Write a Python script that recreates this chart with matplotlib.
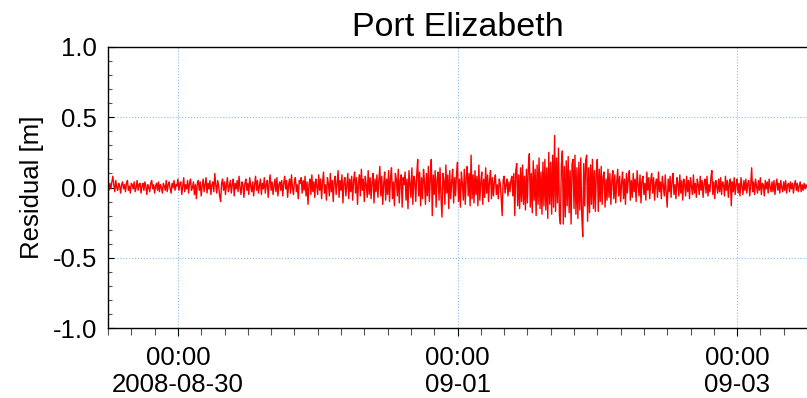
import pandas as pd
import matplotlib
matplotlib.use("Agg")
import matplotlib.pyplot as plt
import matplotlib.dates as mdates

plt.rcParams['font.family'] = ['Liberation Sans', 'DejaVu Sans']

# residual series, 10-minute steps from 2008-08-29 12:00
start_time = "2008-08-29 12:00"
residual = [
    0.01, -0.02, 0.03, -0.01, 0.04, 0.08, 0.02, -0.03, 0.05, 0.00, -0.02, 0.03, 0.01, -0.04, 0.02, 0.04, -0.01, 0.02,
    -0.03, 0.03, 0.05, -0.02, 0.01, -0.04, 0.03, 0.02, -0.01, 0.04, -0.03, 0.00, 0.05, -0.02, 0.02, 0.03, -0.04, 0.01,
    0.03, -0.02, 0.04, 0.01, -0.05, 0.02, 0.00, -0.03, 0.03, 0.05, -0.01, 0.02, -0.04, 0.01, 0.03, -0.02, 0.04, -0.03,
    0.02, 0.00, -0.04, 0.03, 0.01, -0.02, 0.05, -0.03, 0.02, 0.04, -0.01, -0.04, 0.03, 0.00, 0.05, -0.02, 0.02, 0.01,
    0.06, -0.02, 0.03, 0.04, -0.05, 0.01, 0.07, -0.03, 0.02, -0.01, 0.05, -0.04, 0.03, 0.06, -0.02, 0.00, 0.04, -0.05,
    0.02, -0.08, 0.03, 0.05, -0.02, 0.04, -0.06, 0.01, 0.06, -0.03, 0.02, 0.07, -0.04, 0.03, -0.01, 0.05, -0.05, 0.02,
    0.04, -0.03, 0.10, 0.02, -0.04, 0.05, 0.01, -0.06, -0.10, 0.03, 0.06, -0.02, 0.04, -0.05, 0.02, 0.07, -0.03, 0.01,
    0.05, -0.04, 0.02, 0.06, -0.06, 0.03, -0.01, 0.05, -0.03, 0.08, 0.00, -0.05, 0.04, 0.02, -0.07, 0.03, 0.06, -0.02,
    0.03, -0.05, 0.07, 0.01, -0.03, 0.04, -0.06, 0.02, 0.08, -0.02, 0.05, -0.04, 0.01, 0.06, -0.05, 0.03, -0.01, 0.07,
    -0.04, 0.02, 0.05, -0.07, 0.03, 0.09, -0.02, 0.04, -0.05, 0.01, 0.06, -0.03, 0.07, -0.06, 0.02, 0.04, -0.02, 0.05,
    -0.06, 0.03, 0.08, -0.01, 0.05, -0.07, 0.02, 0.06, -0.04, 0.09, 0.00, -0.05, 0.04, 0.07, -0.03, 0.02, -0.08, 0.05,
    0.03, 0.07, -0.04, 0.05, -0.02, 0.08, -0.06, 0.04, -0.12, 0.02, 0.06, -0.05, 0.09, -0.03, 0.04, -0.07, 0.06, 0.01,
    -0.05, 0.09, -0.02, 0.06, -0.08, 0.04, 0.11, -0.04, 0.02, -0.09, 0.07, 0.03, -0.06, 0.10, -0.03, 0.05, -0.10, 0.04,
    0.08, -0.05, 0.03, 0.12, -0.07, 0.05, -0.02, 0.09, -0.11, 0.04, 0.07, -0.06, 0.02, 0.10, -0.08, 0.06, -0.03, 0.08,
    -0.09, 0.05, 0.11, -0.04, 0.07, -0.12, 0.03, 0.09, -0.06, 0.13, -0.02, 0.06, -0.10, 0.08, 0.02, -0.07, 0.12, -0.05,
    0.07, -0.08, 0.04, 0.10, -0.11, 0.06, -0.03, 0.09, -0.07, 0.05, 0.15, -0.06, 0.08, -0.12, 0.03, 0.11, -0.09, 0.06,
    -0.05, 0.12, -0.10, 0.07, 0.14, -0.08, 0.04, -0.13, 0.10, 0.06, -0.06, 0.13, -0.11, 0.05, 0.09, -0.14, 0.07, 0.02,
    0.11, -0.09, 0.06, -0.15, 0.12, 0.03, -0.07, 0.14, -0.12, 0.08, 0.05, -0.10, 0.09, 0.20, -0.06, 0.11, -0.13, 0.07,
    -0.08, 0.13, 0.04, -0.12, 0.10, -0.06, 0.15, -0.10, 0.07, 0.20, -0.20, 0.09, -0.05, 0.12, -0.14, 0.06, 0.11, -0.09,
    0.14, -0.07, -0.21, 0.10, 0.05, -0.12, 0.16, -0.04, 0.09, -0.15, 0.12, -0.08, 0.04, 0.13, -0.11, 0.07, -0.06, 0.10,
    0.18, -0.10, 0.06, -0.14, 0.11, 0.03, -0.09, 0.13, -0.12, 0.07, 0.15, -0.06, 0.10, -0.13, 0.23, -0.08, 0.09, -0.11,
    0.12, -0.05, 0.08, -0.13, 0.16, -0.09, 0.04, 0.11, -0.12, 0.06, -0.07, 0.14, -0.04, 0.09, -0.10, 0.05, 0.12, -0.08,
    0.07, -0.06, 0.04, 0.09, -0.05, 0.02, -0.08, 0.06, 0.03, -0.07, -0.20, 0.05, 0.08, -0.04, 0.02, 0.06, -0.06, 0.04,
    -0.03, 0.05, 0.08, -0.06, 0.10, -0.20, 0.12, 0.17, -0.13, 0.09, -0.15, 0.14, -0.10, 0.16, -0.12, 0.08, -0.16, 0.13,
    -0.11, 0.15, 0.24, -0.14, 0.10, -0.18, 0.19, -0.09, 0.13, -0.20, 0.16, -0.12, 0.21, -0.15, 0.11, -0.19, 0.18, -0.13,
    0.20, -0.16, 0.14, -0.22, 0.25, -0.12, 0.18, -0.19, 0.23, -0.14, 0.37, -0.17, 0.21, -0.11, 0.28, -0.20, -0.26, 0.16,
    0.26, -0.26, 0.15, -0.21, 0.19, -0.13, 0.22, -0.18, 0.12, -0.26, 0.17, 0.20, -0.15, 0.23, -0.19, 0.14, -0.22, 0.18,
    -0.16, 0.21, -0.20, -0.35, 0.17, -0.13, 0.19, 0.23, -0.24, 0.14, -0.18, 0.16, -0.12, 0.20, -0.15, 0.12, -0.17, 0.11,
    0.20, -0.17, 0.13, -0.10, 0.15, -0.12, 0.08, 0.11, -0.14, 0.06, -0.09, 0.13, -0.07, 0.10, -0.12, 0.05, 0.12, -0.08,
    0.09, -0.11, 0.04, 0.13, -0.06, 0.08, -0.10, 0.03, 0.11, -0.08, 0.06, -0.12, 0.10, -0.04, 0.07, 0.12, -0.09, 0.05,
    -0.07, 0.10, -0.03, 0.06, -0.10, 0.12, 0.02, -0.06, 0.09, -0.11, 0.05, 0.08, -0.05, 0.03, -0.09, 0.11, -0.02, 0.07,
    -0.08, 0.05, 0.10, -0.04, 0.07, -0.09, 0.03, 0.06, -0.07, 0.11, -0.03, 0.04, -0.08, 0.08, 0.01, -0.06, 0.09, -0.04,
    -0.14, 0.06, -0.03, 0.08, -0.07, 0.04, 0.10, -0.05, 0.02, -0.08, 0.07, 0.03, -0.06, 0.09, -0.04, 0.05, -0.09, 0.06,
    0.02, -0.06, 0.08, -0.03, 0.05, -0.08, 0.07, 0.01, -0.05, 0.09, -0.04, 0.03, -0.07, 0.06, 0.02, -0.05, 0.08, -0.02,
    0.05, -0.07, 0.03, 0.06, -0.04, 0.08, -0.06, 0.02, -0.03, 0.07, 0.12, -0.05, 0.04, -0.08, 0.05, 0.01, -0.04, 0.06,
    -0.03, 0.07, -0.05, 0.04, 0.02, -0.06, 0.08, -0.02, 0.05, -0.07, 0.03, 0.06, -0.13, 0.04, -0.03, 0.07, -0.05, 0.02,
    0.06, -0.04, 0.03, -0.06, 0.07, 0.01, -0.05, 0.05, -0.02, 0.06, -0.04, 0.03, 0.05, -0.06, 0.02, 0.14, -0.03, 0.04,
    -0.05, 0.06, 0.01, -0.04, 0.05, -0.02, 0.07, -0.05, 0.03, 0.02, -0.06, 0.05, -0.01, 0.04, -0.04, 0.06, 0.00, -0.03,
    0.04, -0.03, 0.05, -0.05, 0.02, 0.06, -0.02, 0.03, -0.04, 0.05, 0.00, -0.03, 0.04, -0.02, 0.05, -0.04, 0.02, 0.03,
    -0.03, 0.04, -0.01, 0.03, -0.04, 0.02, 0.05, -0.02, 0.03, -0.03, 0.01, 0.04, -0.03, 0.02, -0.02, 0.03, -0.01, 0.02,
    0.00,
]
times = pd.date_range(start_time, periods=len(residual), freq="10min")

tick_dates = pd.to_datetime(["2008-08-30", "2008-09-01", "2008-09-03"])
tick_labels = ["00:00\n2008-08-30", "00:00\n09-01", "00:00\n09-03"]
x_start = pd.Timestamp("2008-08-29 12:00")
x_end = pd.Timestamp("2008-09-03 12:00")

fig = plt.figure(figsize=(8.07, 3.98), dpi=100)
ax = fig.add_axes([108 / 807, 1 - 328 / 398, 1 - 108 / 807, (328 - 47) / 398])

ax.plot(times, residual, color="red", linewidth=1.0)

ax.set_xlim(x_start, x_end)
ax.set_ylim(-1.0, 1.0)
ax.set_yticks([-1.0, -0.5, 0.0, 0.5, 1.0])
ax.set_yticklabels(["-1.0", "-0.5", "0.0", "0.5", "1.0"])
ax.yaxis.set_minor_locator(plt.MultipleLocator(0.1))
ax.set_xticks(tick_dates)
ax.set_xticklabels(tick_labels, linespacing=1.15)
ax.xaxis.set_minor_locator(mdates.HourLocator(byhour=range(0, 24, 4)))

ax.tick_params(axis="x", which="major", direction="out", length=6, width=0.8, pad=7, labelsize=18.5)
ax.tick_params(axis="x", which="minor", direction="out", length=5, width=0.8, color="#555555")
ax.tick_params(axis="y", which="major", direction="in", length=4.5, width=0.8, pad=8, labelsize=18.5)
ax.tick_params(axis="y", which="minor", direction="in", length=3, width=0.8, color="#555555")

ax.grid(True, which="major", linestyle=":", color="#88bbee", linewidth=0.8)
ax.spines["right"].set_visible(False)
for s in ["left", "top", "bottom"]:
    ax.spines[s].set_linewidth(1.0)

ax.set_ylabel("Residual [m]", fontsize=18.5, labelpad=6)
ax.set_title("Port Elizabeth", fontsize=24.5, pad=8)

fig.savefig("out.png", dpi=100)
